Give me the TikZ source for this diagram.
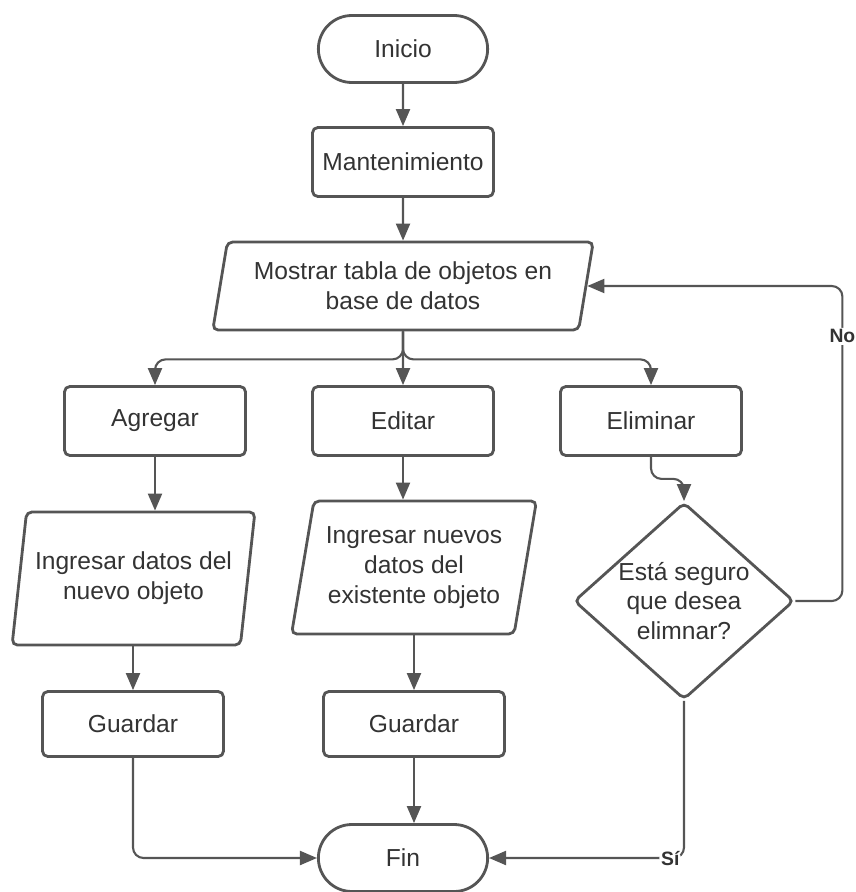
\documentclass[tikz,border=0pt]{standalone}
\usepackage{fontspec}
\setmainfont{Liberation Sans}
\usetikzlibrary{shapes.geometric,shapes.misc,arrows.meta}
\definecolor{linea}{HTML}{555555}
\definecolor{texto}{HTML}{333333}

\begin{document}
\begin{tikzpicture}[x=0.02cm,y=-0.02cm,
  every node/.style={text=texto,font=\fontsize{14}{17}\selectfont,align=center},
  inicio/.style={draw=linea,line width=1.6pt,rounded rectangle,minimum width=3.62cm,minimum height=1.34cm},
  caja/.style={draw=linea,line width=1.6pt,rounded corners=3pt,minimum width=3.62cm,minimum height=1.38cm},
  datos/.style={draw=linea,line width=1.6pt,rounded corners=3pt,trapezium,trapezium left angle=77,
    trapezium right angle=103,trapezium stretches=true,inner sep=2pt},
  decision/.style={draw=linea,line width=1.6pt,rounded corners=3pt,diamond,shape aspect=1.12,inner sep=0pt,
    minimum width=4.4cm,minimum height=3.94cm},
  flecha/.style={draw=linea,line width=1.2pt,rounded corners=6pt,-{Triangle[length=0.34cm,width=0.28cm]}},
  etiqueta/.style={fill=white,font=\bfseries\fontsize{11}{13}\selectfont,inner sep=1pt}]
%
\useasboundingbox (0,0) rectangle (855,892);
%
% inicio y mantenimiento
\node[inicio] (1) at (403,49) {Inicio};
\node[caja] (2) at (403,162) {Mantenimiento};
\node[datos,minimum width=7.62cm,minimum height=1.76cm] (3) at (403,286) {Mostrar tabla de objetos en\\base de datos};
%
% opciones
\node[caja] (4) at (155,421) {Agregar};
\node[caja] (5) at (403,421) {Editar};
\node[caja] (6) at (651,421) {Eliminar};
%
\node[datos,minimum width=4.86cm,minimum height=2.66cm] (7) at (133.5,578.5) {Ingresar datos del\\nuevo objeto};
\node[datos,minimum width=4.9cm,minimum height=2.66cm] (8) at (414,567.5) {Ingresar nuevos\\datos del\\existente objeto};
\node[decision] (9) at (684,601) {Está seguro\\que desea\\elimnar?};
%
\node[caja,minimum height=1.3cm] (10) at (133,724) {Guardar};
\node[caja,minimum height=1.3cm] (11) at (414,724) {Guardar};
\node[inicio] (12) at (403,858) {Fin};
%
% flechas
\draw[flecha] (1) -- (2);
\draw[flecha] (2) -- (3);
\draw[flecha] (3) -- (5);
\draw[flecha] (3.south) -- ++(0,28) -| (4);
\draw[flecha] (3.south) -- ++(0,28) -| (6);
%
\draw[flecha] (4) -- (4.south |- 7.north);
\draw[flecha] (10.north |- 7.south) -- (10);
\draw[flecha] (10) |- (12);
%
\draw[flecha] (5) -- (5.south |- 8.north);
\draw[flecha] (11.north |- 8.south) -- (11);
\draw[flecha] (11) -- (11.south |- 12.north);
%
\draw[flecha] (6.south) -- ++(0,22) -| (9);
\draw[flecha] (9.east) -- ++(47,0) |- node[etiqueta,pos=0.42] (no) {No} (3.east);
\draw[flecha] (9.south) |- node[etiqueta,pos=0.535] (si) {Sí} (12.east);
%
\end{tikzpicture}
\end{document}
